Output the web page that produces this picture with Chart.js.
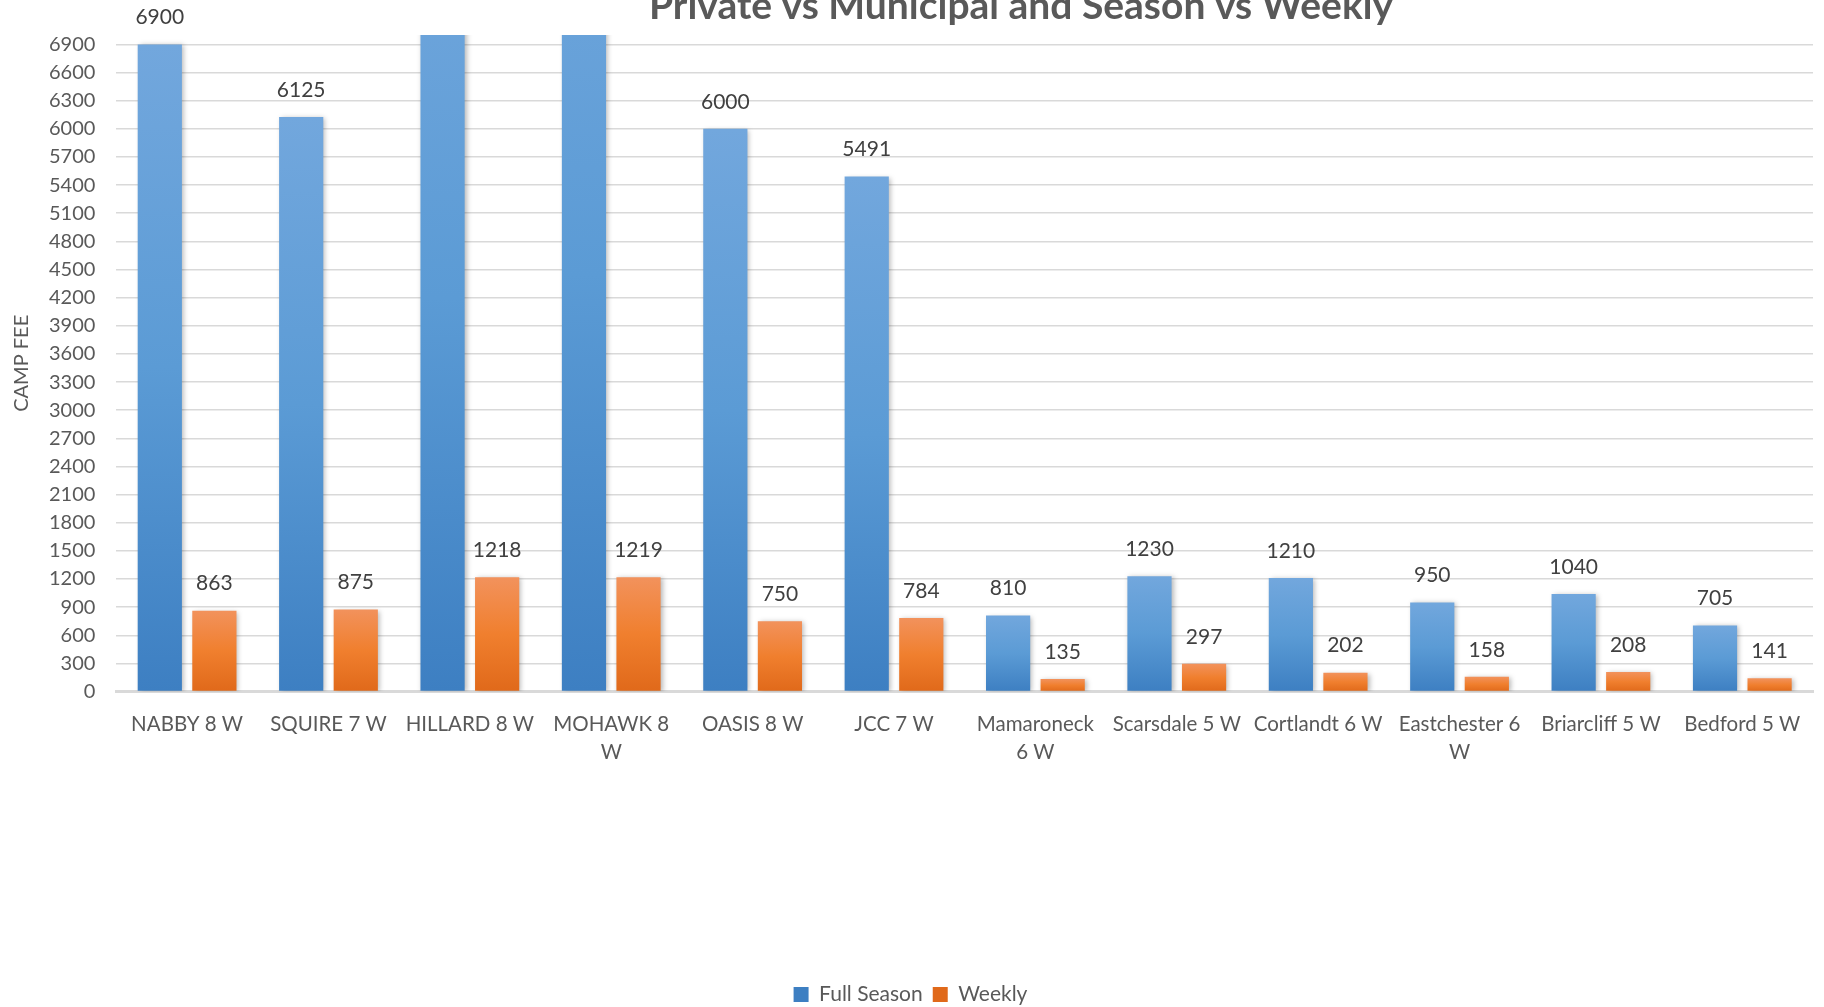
<!DOCTYPE html>
<html>
<head>
<meta charset="utf-8">
<script src="https://cdn.jsdelivr.net/npm/chart.js@4.4.0/dist/chart.umd.min.js"></script>
<style>
  html, body { margin: 0; padding: 0; background: #fff; overflow: hidden; }
  #wrap { position: relative; width: 1824px; height: 1007px; overflow: hidden; }
  #wrap canvas { position: absolute; left: 0; top: -20px; }
</style>
</head>
<body>
<div id="wrap"><canvas id="chart" width="1824" height="1035"></canvas></div>
<script>
var CHART_TITLE = 'Private vs Municipal and Season vs Weekly';
var CAMPS = [
  'NABBY 8 W', 'SQUIRE 7 W', 'HILLARD 8 W', ['MOHAWK 8', 'W'], 'OASIS 8 W', 'JCC 7 W',
  ['Mamaroneck', '6 W'], 'Scarsdale 5 W', 'Cortlandt 6 W', ['Eastchester 6', 'W'], 'Briarcliff 5 W', 'Bedford 5 W'
];
// HILLARD and MOHAWK run past the top of the axis in the picture, their labels are cut off
var FULL_SEASON = [6900, 6125, 8400, 8900, 6000, 5491, 810, 1230, 1210, 950, 1040, 705];
var WEEKLY = [863, 875, 1218, 1219, 750, 784, 135, 297, 202, 158, 208, 141];
var Y_MAX = 7000;
var Y_STEP = 300;
var Y_LAST_TICK = 6900;

var FONT = 'Lato, "Open Sans", sans-serif';
var TEXT_COLOR = '#595959';

function barGradient(stops, flat) {
  return function (context) {
    var chart = context.chart;
    if (context.dataIndex === undefined || !chart.chartArea) return flat;
    var y = chart.scales.y;
    var v = context.dataset.data[context.dataIndex];
    var top = y.getPixelForValue(v);
    var bottom = y.getPixelForValue(0);
    var g = chart.ctx.createLinearGradient(0, top, 0, bottom);
    g.addColorStop(0, stops[0]);
    g.addColorStop(0.5, stops[1]);
    g.addColorStop(1, stops[2]);
    return g;
  };
}

var titlePlugin = {
  id: 'clippedTitle',
  afterDraw: function (chart) {
    var c = chart.ctx;
    c.save();
    c.font = 'bold 39px ' + FONT;
    c.fillStyle = TEXT_COLOR;
    c.textAlign = 'center';
    c.textBaseline = 'alphabetic';
    c.fillText(CHART_TITLE, 1021, 39);
    c.restore();
  }
};

var barLabels = {
  id: 'barLabels',
  beforeDatasetsDraw: function (chart) {
    var c = chart.ctx;
    c.save();
    c.shadowColor = 'rgba(0,0,0,0.28)';
    c.shadowBlur = 5;
    c.shadowOffsetX = 2;
    c.shadowOffsetY = 1;
  },
  afterDatasetsDraw: function (chart) {
    var c = chart.ctx;
    c.restore();
    c.save();
    c.font = '21px ' + FONT;
    c.fillStyle = '#404040';
    c.textAlign = 'center';
    c.textBaseline = 'middle';
    chart.data.datasets.forEach(function (ds, i) {
      var meta = chart.getDatasetMeta(i);
      meta.data.forEach(function (bar, j) {
        var v = ds.data[j];
        if (v > Y_MAX) return;
        c.fillText(String(v), bar.x, bar.y - 27);
      });
    });
    c.restore();
  }
};

new Chart(document.getElementById('chart').getContext('2d'), {
  type: 'bar',
  data: {
    labels: CAMPS,
    datasets: [
      {
        label: 'Full Season',
        data: FULL_SEASON,
        backgroundColor: barGradient(['#72a7dd', '#5b9bd5', '#3d7fc2'], '#5b9bd5'),
        categoryPercentage: 0.772,
        barPercentage: 0.81
      },
      {
        label: 'Weekly',
        data: WEEKLY,
        backgroundColor: barGradient(['#f2925c', '#f07f2e', '#e0691a'], '#ed7d31'),
        categoryPercentage: 0.772,
        barPercentage: 0.81
      }
    ]
  },
  options: {
    responsive: false,
    animation: false,
    layout: { padding: { top: 55, left: 8, right: 11, bottom: 0 } },
    scales: {
      x: {
        grid: { display: false },
        border: { display: true, color: '#d9d9d9', width: 3 },
        ticks: { color: TEXT_COLOR, font: { family: FONT, size: 20.5, lineHeight: 1.4 }, padding: 10, maxRotation: 0, autoSkip: false },
        title: { display: true, text: '', font: { size: 10, lineHeight: 1 }, padding: { top: 0, bottom: 187 } }
      },
      y: {
        min: 0,
        max: Y_MAX,
        border: { display: false },
        grid: { color: '#d9d9d9', lineWidth: 1.5, drawTicks: false },
        ticks: {
          color: TEXT_COLOR, font: { family: FONT, size: 20 }, padding: 21,
          callback: function (v) { return String(v); }
        },
        afterBuildTicks: function (scale) {
          var ticks = [];
          for (var v = 0; v <= Y_LAST_TICK; v += Y_STEP) ticks.push({ value: v });
          scale.ticks = ticks;
        },
        title: { display: true, text: 'CAMP FEE', color: TEXT_COLOR, font: { family: FONT, size: 20 }, padding: { top: 2, bottom: -6 } }
      }
    },
    plugins: {
      title: { display: false },
      tooltip: { enabled: false },
      legend: {
        position: 'bottom',
        labels: { color: TEXT_COLOR, font: { family: FONT, size: 21 }, boxWidth: 15, boxHeight: 15, padding: 10 }
      }
    }
  },
  plugins: [barLabels, titlePlugin]
});
</script>
</body>
</html>
